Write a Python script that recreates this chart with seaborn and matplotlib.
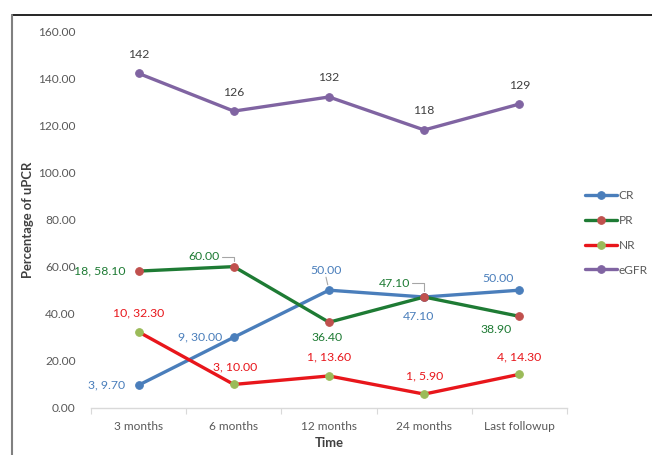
import numpy as np
import pandas as pd
import matplotlib
matplotlib.use("Agg")
import matplotlib.pyplot as plt
from matplotlib.lines import Line2D
import seaborn as sns

# ─── Data ─────────────────────────────────────────────────────────────────────
time_points = ["3 months", "6 months", "12 months", "24 months", "Last followup"]

cr_vals = [9.70, 30.00, 50.00, 47.10, 50.00]
cr_n = [3, 9, None, None, None]
pr_vals = [58.10, 60.00, 36.40, 47.10, 38.90]
pr_n = [18, None, None, None, None]
nr_vals = [32.30, 10.00, 13.60, 5.90, 14.30]
nr_n = [10, 3, 1, 1, 4]
egfr_vals = [142, 126, 132, 118, 129]

y_ticks = [0, 20, 40, 60, 80, 100, 120, 140, 160]

# ─── Styling ──────────────────────────────────────────────────────────────────
sns.set_theme(style="white")
plt.rcParams["font.family"] = ["Lato", "DejaVu Sans"]

C_CR = "#4A7EBB"
C_PR_LINE, C_PR_MK = "#1E7B34", "#C0504D"
C_NR_LINE, C_NR_MK = "#E8161B", "#9BBB59"
C_EGFR = "#8064A2"
TXT = "#595959"

series = [
    ("CR", cr_vals, C_CR, C_CR),
    ("PR", pr_vals, C_PR_LINE, C_PR_MK),
    ("NR", nr_vals, C_NR_LINE, C_NR_MK),
    ("eGFR", egfr_vals, C_EGFR, C_EGFR),
]

fig = plt.figure(figsize=(6.52, 4.55), dpi=100)
ax = fig.add_axes([91 / 652, 1 - 408 / 455, (567 - 91) / 652, (408 - 31) / 455])

x = np.arange(len(time_points))
for name, vals, lc, mc in series:
    df = pd.DataFrame({"x": x, "y": vals})
    sns.lineplot(
        data=df, x="x", y="y", ax=ax, sort=False, color=lc, linewidth=2.4,
        marker="o", markersize=5.5, markerfacecolor=mc, markeredgecolor=mc,
        label=name,
    )


def lab(n, v, fmt="{:.2f}"):
    return fmt.format(v) if n is None else f"{n}, " + fmt.format(v)


# label offsets in pixels (dx, dy, ha)
cr_off = [(-13, 0, "right"), (-12, 0, "right"), (-3, 20, "center"),
          (-6, -19, "center"), (-21, 12, "center")]
pr_off = [(-13, 0, "right"), (-30, 10, "center"), (-2, -15, "center"),
          (-30, 14, "center"), (-23, -13, "center")]
nr_off = [(0, 19, "center"), (1, 18, "center"), (0, 19, "center"),
          (0, 18, "center"), (0, 17, "center")]
# leader start relative to label centre (pixels)
leaders = {("CR", 2): (0, -7), ("PR", 1): (18, 0), ("PR", 3): (18, 0)}

fs_lab = 8.8
for name, vals, ns, offs, col in [
    ("CR", cr_vals, cr_n, cr_off, C_CR),
    ("PR", pr_vals, pr_n, pr_off, C_PR_LINE),
    ("NR", nr_vals, nr_n, nr_off, C_NR_LINE),
]:
    for i, (v, n, (dx, dy, ha)) in enumerate(zip(vals, ns, offs)):
        ax.annotate(lab(n, v), (i, v), xytext=(dx, dy), textcoords="offset pixels",
                    ha=ha, va="center", color=col, fontsize=fs_lab)
        if (name, i) in leaders:
            lx, ly = leaders[(name, i)]
            conn = "angle,angleA=0,angleB=90" if lx else "arc3"
            ax.annotate("", (i, v), xytext=(dx + lx, dy + ly), textcoords="offset pixels",
                        arrowprops=dict(arrowstyle="-", color="#A6A6A6", lw=0.8,
                                        shrinkA=0, shrinkB=4, connectionstyle=conn))

for i, v in enumerate(egfr_vals):
    ax.annotate(f"{v}", (i, v), xytext=(0, 19), textcoords="offset pixels",
                ha="center", va="center", color="#404040", fontsize=fs_lab)

# ─── Axes ─────────────────────────────────────────────────────────────────────
ax.set_xlim(-0.5, len(time_points) - 0.5)
ax.set_ylim(0, 160)
ax.set_xticks(x)
ax.set_xticklabels(time_points)
ax.set_xticks(np.arange(len(time_points) + 1) - 0.5, minor=True)
ax.set_yticks(y_ticks)
ax.set_yticklabels([f"{t:.2f}" for t in y_ticks])
ax.tick_params(axis="x", which="major", length=0, pad=9, labelsize=8.6, colors=TXT)
ax.tick_params(axis="x", which="minor", length=4, width=0.8, color="#D9D9D9",
               direction="out", bottom=True)
ax.tick_params(axis="y", length=0, pad=11, labelsize=8.6, colors=TXT)
for s in ["top", "right", "left"]:
    ax.spines[s].set_visible(False)
ax.spines["bottom"].set_color("#D9D9D9")
ax.spines["bottom"].set_linewidth(1)
ax.grid(False)
ax.set_xlabel("Time", fontsize=9.4, fontweight="bold", color="#404040", labelpad=4)
ax.set_ylabel("Percentage of uPCR", fontsize=9.4, fontweight="bold", color="#404040",
              labelpad=3)

leg = ax.legend(loc="center left", bbox_to_anchor=(580 / 652, 1 - 233 / 455),
                bbox_transform=fig.transFigure, frameon=False, fontsize=8.6,
                handlelength=2.7, handletextpad=0.15, labelspacing=1.15,
                borderaxespad=0)
for t in leg.get_texts():
    t.set_color(TXT)

# picture frame
fig.add_artist(Line2D([12 / 652, 1], [1 - 15 / 455] * 2, color="black", lw=1.2))
fig.add_artist(Line2D([12 / 652] * 2, [0, 1 - 15 / 455], color="#808080", lw=1.5))

fig.savefig("out.png", dpi=100)
